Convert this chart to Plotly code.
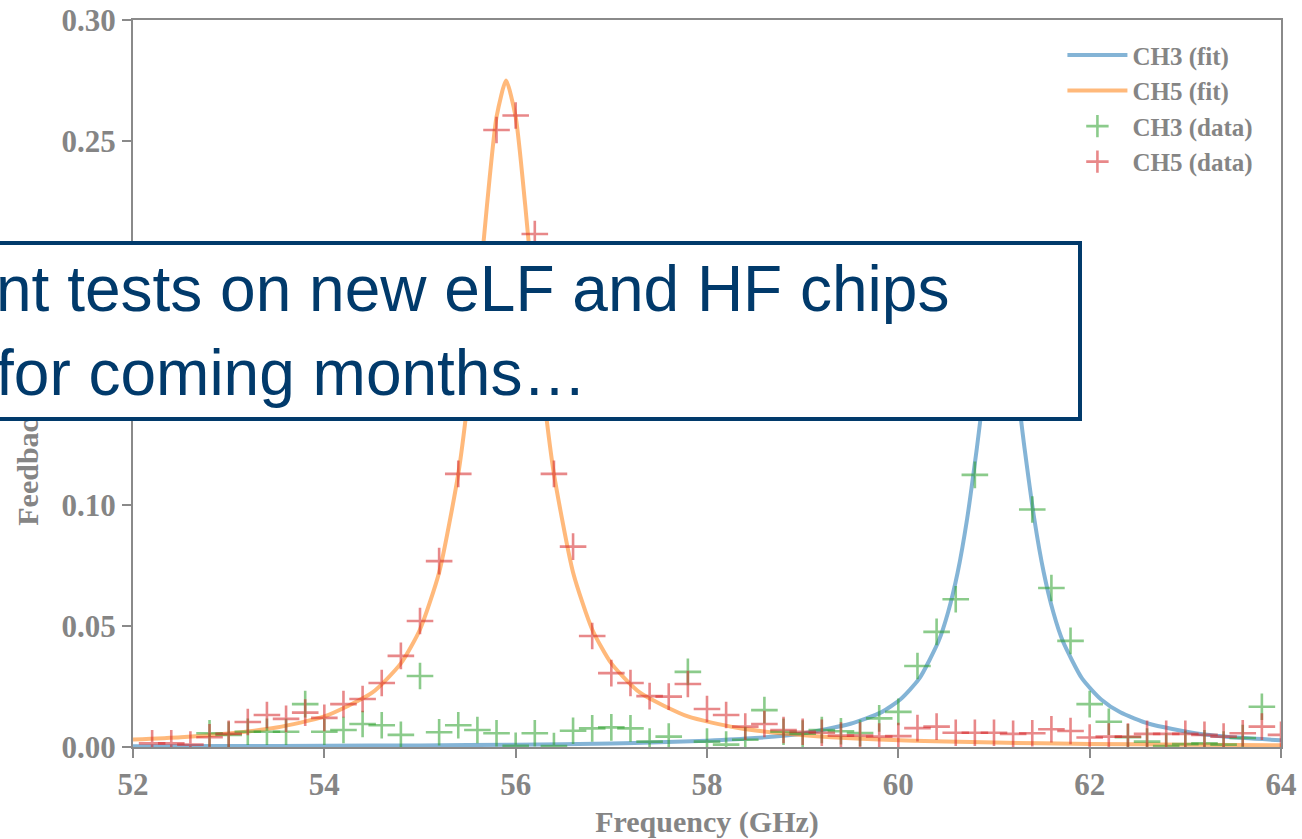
import plotly.graph_objects as go

# Measured feedback vs frequency for the two channels (+ markers)
ch3_data_x = [52.8, 53.0, 53.2, 53.4, 53.6, 53.8, 54.0, 54.2, 54.4, 54.6, 54.8, 55.0,
              55.2, 55.4, 55.6, 55.8, 56.0, 56.2, 56.4, 56.6, 56.8, 57.0, 57.2, 57.4,
              57.6, 57.8, 58.0, 58.2, 58.4, 58.6, 58.8, 59.0, 59.2, 59.4, 59.6, 59.8,
              60.0, 60.2, 60.4, 60.6, 60.8, 61.0, 61.2, 61.4, 61.6, 61.8, 62.0, 62.2,
              62.4, 62.6, 62.8, 63.0, 63.2, 63.4, 63.6, 63.8]
ch3_data_y = [0.0057, 0.0050, 0.0063, 0.0063, 0.0063, 0.0177, 0.0063, 0.0070, 0.0095, 0.0090, 0.0050, 0.0293,
              0.0061, 0.0090, 0.0070, 0.0057, 0.0005, 0.0057, 0.0004, 0.0067, 0.0077, 0.0081, 0.0077, 0.0022,
              0.0043, 0.0310, 0.0022, 0.0010, 0.0030, 0.0152, 0.0063, 0.0055, 0.0070, 0.0065, 0.0058, 0.0118,
              0.0145, 0.0334, 0.0475, 0.0610, 0.1123, 0.1700, 0.1500, 0.0980, 0.0656, 0.0438, 0.0177, 0.0104,
              0.0040, 0.0022, 0.0004, 0.0012, 0.0015, 0.0010, 0.0037, 0.0166]

ch5_data_x = [52.2, 52.4, 52.6, 52.8, 53.0, 53.2, 53.4, 53.6, 53.8, 54.0, 54.2, 54.4,
              54.6, 54.8, 55.0, 55.2, 55.4, 55.6, 55.8, 56.0, 56.2, 56.4, 56.6, 56.8,
              57.0, 57.2, 57.4, 57.6, 57.8, 58.0, 58.2, 58.4, 58.6, 58.8, 59.0, 59.2,
              59.4, 59.6, 59.8, 60.0, 60.2, 60.4, 60.6, 60.8, 61.0, 61.2, 61.4, 61.6,
              61.8, 62.0, 62.2, 62.4, 62.6, 62.8, 63.0, 63.2, 63.4, 63.6, 63.8, 64.0]
ch5_data_y = [0.0015, 0.0015, 0.0010, 0.0040, 0.0054, 0.0103, 0.0132, 0.0116, 0.0142, 0.0120, 0.0177, 0.0198,
              0.0264, 0.0376, 0.0520, 0.0767, 0.1127, 0.1800, 0.2546, 0.2606, 0.2117, 0.1127, 0.0827, 0.0458,
              0.0305, 0.0264, 0.0210, 0.0208, 0.0260, 0.0157, 0.0132, 0.0084, 0.0095, 0.0070, 0.0063, 0.0059,
              0.0047, 0.0047, 0.0043, 0.0045, 0.0078, 0.0084, 0.0059, 0.0059, 0.0059, 0.0054, 0.0057, 0.0073,
              0.0066, 0.0039, 0.0043, 0.0043, 0.0054, 0.0054, 0.0054, 0.0050, 0.0043, 0.0057, 0.0084, 0.0050]

# Fitted resonance curves, sampled along the frequency axis
ch3_fit_x = [52.0, 53.0, 54.0, 55.0, 56.0, 57.0, 57.5, 58.0, 58.5, 59.0, 59.5, 59.82,
             60.02, 60.22, 60.42, 60.52, 60.62, 60.72, 60.82, 60.92, 61.02, 61.07, 61.12,
             61.22, 61.32, 61.42, 61.52, 61.62, 61.72, 61.92, 62.12, 62.32, 62.62,
             63.12, 63.62, 64.0]
ch3_fit_y = [0.0003, 0.00037, 0.00049, 0.00066, 0.00095, 0.00147, 0.00191, 0.00258, 0.00367, 0.00561, 0.00958, 0.0143,
             0.0196, 0.0283, 0.0436, 0.0556, 0.0720, 0.0944, 0.1231, 0.1543, 0.1767, 0.1800, 0.1767,
             0.1543, 0.1231, 0.0944, 0.0720, 0.0556, 0.0436, 0.0283, 0.0196, 0.0143, 0.00958,
             0.00561, 0.00367, 0.00279]

ch5_fit_x = [52.0, 52.5, 53.0, 53.5, 54.0, 54.5, 54.8, 55.0, 55.2, 55.4, 55.5, 55.6,
             55.7, 55.8, 55.9, 56.0, 56.1, 56.2, 56.3, 56.4, 56.6, 56.8, 57.0, 57.3,
             57.8, 58.3, 58.8, 59.3, 59.8, 60.5, 61.5, 62.5, 63.5, 64.0]
ch5_fit_y = [0.0031, 0.00407, 0.00557, 0.00804, 0.0126, 0.0224, 0.0345, 0.0485, 0.0720, 0.1127, 0.1431, 0.1811,
             0.2235, 0.2600, 0.2750, 0.2600, 0.2235, 0.1811, 0.1431, 0.1127, 0.0720, 0.0485, 0.0345, 0.0224,
             0.0126, 0.00804, 0.00557, 0.00407, 0.0031, 0.00224, 0.00152, 0.00109, 0.00082, 0.00073]

x_ticks = [52, 54, 56, 58, 60, 62, 64]
y_ticks = [0.00, 0.05, 0.10, 0.15, 0.20, 0.25, 0.30]

BLUE = "rgba(31,119,180,0.55)"
ORANGE = "rgba(255,127,14,0.55)"
GREEN = "rgba(44,160,44,0.55)"
RED = "rgba(214,39,40,0.55)"
GREY = "#858585"
NAVY = "#013a6b"
SERIF = "Liberation Serif"

fig = go.Figure()
fig.add_trace(go.Scatter(x=ch3_fit_x, y=ch3_fit_y, mode="lines", name="CH3 (fit)",
                         line=dict(color=BLUE, width=4, shape="spline", smoothing=0.6)))
fig.add_trace(go.Scatter(x=ch5_fit_x, y=ch5_fit_y, mode="lines", name="CH5 (fit)",
                         line=dict(color=ORANGE, width=4, shape="spline", smoothing=0.6)))
fig.add_trace(go.Scatter(x=ch3_data_x, y=ch3_data_y, mode="markers", name="CH3 (data)",
                         marker=dict(symbol="cross-thin", size=19, line=dict(color=GREEN, width=2.6))))
fig.add_trace(go.Scatter(x=ch5_data_x, y=ch5_data_y, mode="markers", name="CH5 (data)",
                         marker=dict(symbol="cross-thin", size=19, line=dict(color=RED, width=2.6))))

axis_common = dict(
    showline=True, linecolor="#8a8a8a", linewidth=2, mirror=True,
    ticks="outside", ticklen=9, tickwidth=2, tickcolor="#8a8a8a",
    showgrid=False, zeroline=False, automargin=False,
    tickfont=dict(family=SERIF, size=31, color=GREY, weight="bold"),
)

fig.update_xaxes(range=[52, 64], tickvals=x_ticks, ticktext=[str(v) for v in x_ticks],
                 title=dict(text="Frequency (GHz)", standoff=14,
                            font=dict(family=SERIF, size=30, color=GREY, weight="bold")),
                 **axis_common)
fig.update_yaxes(range=[0, 0.30], tickvals=y_ticks, ticktext=[f"{v:.2f}" for v in y_ticks],
                 title=dict(text="Feedback power (a.u.)", standoff=14,
                            font=dict(family=SERIF, size=30, color=GREY, weight="bold")),
                 **axis_common)

# Overlay note box
fig.add_annotation(
    xref="paper", yref="paper", x=0.8267, y=0.696, xanchor="right", yanchor="top",
    text="nt tests on new eLF and HF chips<br>for coming months…",
    showarrow=False, align="left", valign="middle",
    width=1080, height=168, borderpad=2,
    bgcolor="white", bordercolor=NAVY, borderwidth=4,
    font=dict(family="Liberation Sans", size=64, color=NAVY),
)

fig.update_layout(
    width=1302, height=839,
    margin=dict(l=133, r=21, t=20, b=92, autoexpand=False),
    plot_bgcolor="white", paper_bgcolor="white",
    showlegend=True,
    legend=dict(x=0.8096, y=0.983, xanchor="left", yanchor="top",
                bgcolor="rgba(255,255,255,0)", borderwidth=0, itemwidth=60,
                font=dict(family=SERIF, size=25, color=GREY, weight="bold")),
)

fig.write_html("out.html")
